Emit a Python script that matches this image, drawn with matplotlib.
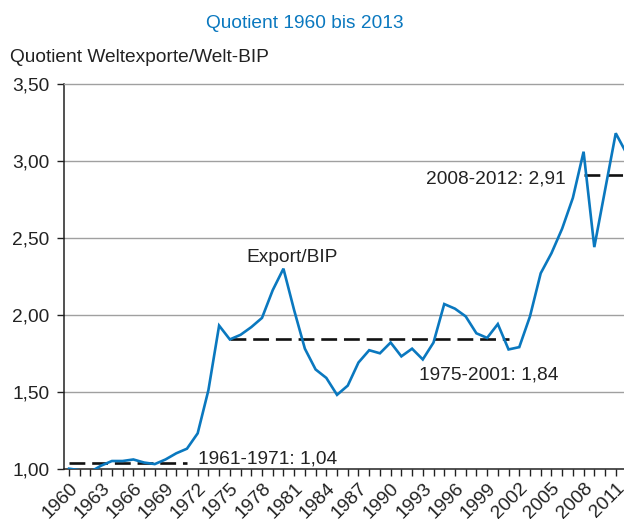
import numpy as np
import matplotlib
matplotlib.use("Agg")
import matplotlib.pyplot as plt

# Quotient Weltexporte / Welt-BIP (1960 = 1)
years = list(range(1960, 2013))
ratio = [1.00, 0.99, 0.98, 1.02, 1.05, 1.05, 1.06, 1.04, 1.03, 1.06,
         1.10, 1.13, 1.23, 1.51, 1.93, 1.84, 1.87, 1.92, 1.98, 2.16,
         2.30, 2.03, 1.78, 1.645, 1.59, 1.48, 1.54, 1.69, 1.77, 1.75,
         1.82, 1.73, 1.78, 1.71, 1.82, 2.07, 2.04, 1.99, 1.88, 1.85,
         1.94, 1.775, 1.79, 1.99, 2.27, 2.40, 2.56, 2.76, 3.06, 2.44,
         2.81, 3.18, 3.05]

# period averages: (start, end, value, label)
periods = [(1960, 1971, 1.04, "1961-1971: 1,04"),
           (1975, 2001, 1.84, "1975-2001: 1,84"),
           (2008, 2013, 2.91, "2008-2012: 2,91")]

yticks = [1.0, 1.5, 2.0, 2.5, 3.0, 3.5]
ytick_labels = ["1,00", "1,50", "2,00", "2,50", "3,00", "3,50"]
xtick_years = list(range(1960, 2013))

blue = "#0a78bf"
txt = "#222222"
fs = 13.8

plt.rcParams["font.family"] = ["Liberation Sans", "DejaVu Sans"]

fig = plt.figure(figsize=(6.24, 5.19), dpi=100)
ax = fig.add_axes([64 / 624, 50.3 / 519, 1 - 64 / 624, 384.7 / 519])

ax.plot(years, ratio, color=blue, lw=1.9, solid_joinstyle="miter", zorder=3)

for x0, x1, v, lab in periods:
    ax.plot([x0, x1], [v, v], color="#111111", lw=1.9, dashes=(6, 2.6), zorder=2)

ax.text(1972.0, 1.035, periods[0][3], fontsize=fs, color=txt, ha="left", va="baseline")
ax.text(1992.6, 1.582, periods[1][3], fontsize=fs, color=txt, ha="left", va="baseline")
ax.text(2006.3, 2.853, periods[2][3], fontsize=fs, color=txt, ha="right", va="baseline")
ax.text(1976.5, 2.342, "Export/BIP", fontsize=fs, color=txt, ha="left", va="baseline")

ax.set_yticks(yticks)
ax.set_yticklabels(ytick_labels, fontsize=fs, color=txt)
ax.set_xticks(xtick_years)
ax.set_xticklabels([str(y) if (y - 1960) % 3 == 0 else "" for y in xtick_years],
                   fontsize=fs, color=txt, rotation=45, ha="right", va="top",
                   rotation_mode="anchor")
ax.tick_params(axis="y", length=5, width=1, pad=5.5, color="#222222")
ax.tick_params(axis="x", length=5, width=1, pad=3, color="#222222")

# limits after the ticks, so set_xticks does not widen them
ax.set_xlim(1959.53, 2011.77)
ax.set_ylim(1.0, 3.5)

for y in yticks[1:-1]:
    ax.axhline(y, color="#a0a0a0", lw=1.0, zorder=1)

ax.spines["right"].set_visible(False)
ax.spines["top"].set_color("#a0a0a0")
ax.spines["top"].set_linewidth(1.0)
ax.spines["left"].set_color("#222222")
ax.spines["bottom"].set_color("#222222")
ax.spines["left"].set_linewidth(1.1)
ax.spines["bottom"].set_linewidth(1.1)

fig.text(305 / 624, 1 - 28 / 519, "Quotient 1960 bis 2013", fontsize=fs,
         color=blue, ha="center", va="baseline")
fig.text(10 / 624, 1 - 62 / 519, "Quotient Weltexporte/Welt-BIP", fontsize=13.8,
         color=txt, ha="left", va="baseline")

fig.savefig("out.png", dpi=100)
